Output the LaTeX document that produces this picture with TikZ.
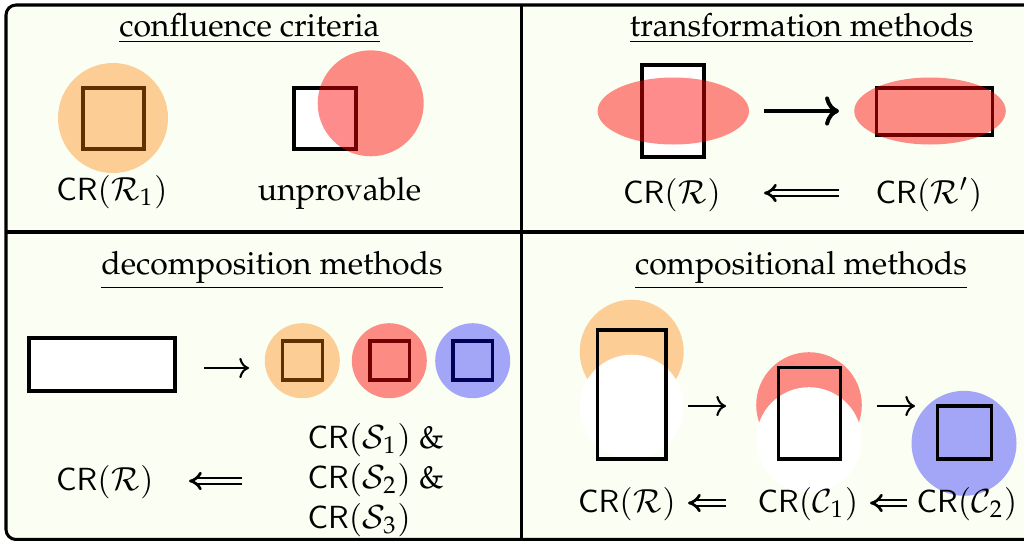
\documentclass[tikz,border=0pt]{standalone}
\usepackage[T1]{fontenc}
\usepackage{mathpazo}
\usetikzlibrary{arrows.meta}
\definecolor{bg}{HTML}{FBFEF2}
\begin{document}
\begin{tikzpicture}[x=0.3125pt, y=-0.3125pt,
  lw/.style={line width=0.95pt},
  sbox/.style={draw, lw},
  wbox/.style={sbox, fill=white},
  orng/.style={fill=orange, fill opacity=0.38},
  rd/.style={fill=red, fill opacity=0.45},
  bl/.style={fill=blue, fill opacity=0.35},
  lbl/.style={anchor=base, inner sep=0pt},
  lblw/.style={anchor=base west, inner sep=0pt},
  arr/.style={line width=0.65pt, -{To}},
  bigarr/.style={line width=1.25pt, -{To}},
  dbl/.style={double=bg, double distance=1.0pt, line width=0.85pt, -{Implies}},
]
\useasboundingbox (0,0) rectangle (1024,540);
\clip (0,0) rectangle (1024,540);
% frame and dividers
\draw[lw, fill=bg, rounded corners=3.125pt] (6,5) rectangle (1040,539.5);
\draw[line width=1.1pt] (6,232) -- (1040,232);
\draw[line width=1.1pt] (521.5,5) -- (521.5,539.5);

% ---------- confluence criteria ----------
\node[lbl] (h1) at (249.5,36) {\underline{confluence criteria}};
\draw[sbox] (83,88) rectangle (144,149);
\fill[orng] (113,118) circle[radius=55];
\draw[wbox] (294,88) rectangle (356,149);
\fill[rd] (370.7,103.3) circle[radius=53];
\node[lbl] (l1) at (112,200) {$\mathsf{CR}(\mathcal{R}_1)$};
\node[lbl] (l2) at (339.5,200) {unprovable};

% ---------- transformation methods ----------
\node[lbl] (h2) at (801.5,36) {\underline{transformation methods}};
\draw[wbox] (642,65) rectangle (704,157);
\fill[rd] (673.3,111) ellipse[x radius=75.7, y radius=33.5];
\draw[sbox] (876,88) rectangle (992,135);
\fill[rd] (930,111) ellipse[x radius=75.8, y radius=33.5];
\coordinate (a1s) at (764,111);
\coordinate (a1e) at (839,111);
\draw[bigarr] (a1s) -- (a1e);
\node[lbl] (l3) at (672,203) {$\mathsf{CR}(\mathcal{R})$};
\node[lbl] (l4) at (929,203) {$\mathsf{CR}(\mathcal{R}')$};
\coordinate (d1s) at (839,193);
\coordinate (d1e) at (764,193);
\draw[dbl] (d1s) -- (d1e);

% ---------- decomposition methods ----------
\node[lbl] (h3) at (272,274) {\underline{decomposition methods}};
\draw[wbox] (29,338) rectangle (175,391);
\coordinate (a2s) at (204,368);
\coordinate (a2e) at (249,368);
\draw[arr] (a2s) -- (a2e);
\draw[sbox] (282.7,341) rectangle (322.3,380);
\fill[orng] (302.3,360.7) circle[radius=37.5];
\draw[sbox] (370,341) rectangle (409.3,380);
\fill[rd] (389.3,360.7) circle[radius=37.5];
\draw[sbox] (453,341) rectangle (492.3,380);
\fill[bl] (472.7,360.7) circle[radius=37.5];
\node[lbl] (l5) at (105,490) {$\mathsf{CR}(\mathcal{R})$};
\coordinate (d2s) at (242,481);
\coordinate (d2e) at (189,481);
\draw[dbl] (d2s) -- (d2e);
\node[lblw] (s1) at (307,448) {$\mathsf{CR}(\mathcal{S}_1)$ \&};
\node[lblw] (s2) at (307,488) {$\mathsf{CR}(\mathcal{S}_2)$ \&};
\node[lblw] (s3) at (307,528) {$\mathsf{CR}(\mathcal{S}_3)$};

% ---------- compositional methods ----------
\node[lbl] (h4) at (801,274) {\underline{compositional methods}};
\fill[orng] (631.7,351.7) circle[radius=52];
\fill[white] (631.7,406.7) circle[radius=52];
\draw[sbox] (597.3,330) rectangle (666,459);
\fill[rd] (809,405) circle[radius=52.8];
\fill[white] (809,440) circle[radius=52.8];
\draw[sbox] (778.3,367.7) rectangle (840,459);
\fill[bl] (964,443.3) circle[radius=52.5];
\draw[sbox] (937.3,406) rectangle (991,459);
\coordinate (a3s) at (688,406);
\coordinate (a3e) at (726,406);
\draw[arr] (a3s) -- (a3e);
\coordinate (a4s) at (877,406);
\coordinate (a4e) at (915,406);
\draw[arr] (a4s) -- (a4e);
\node[lbl] (l6) at (627,512) {$\mathsf{CR}(\mathcal{R})$};
\node[lbl] (l7) at (808,512) {$\mathsf{CR}(\mathcal{C}_1)$};
\node[lbl] (l8) at (967,512) {$\mathsf{CR}(\mathcal{C}_2)$};
\coordinate (d3s) at (726,503);
\coordinate (d3e) at (688,503);
\draw[dbl] (d3s) -- (d3e);
\coordinate (d4s) at (907,503);
\coordinate (d4e) at (870,503);
\draw[dbl] (d4s) -- (d4e);
\end{tikzpicture}
\end{document}
